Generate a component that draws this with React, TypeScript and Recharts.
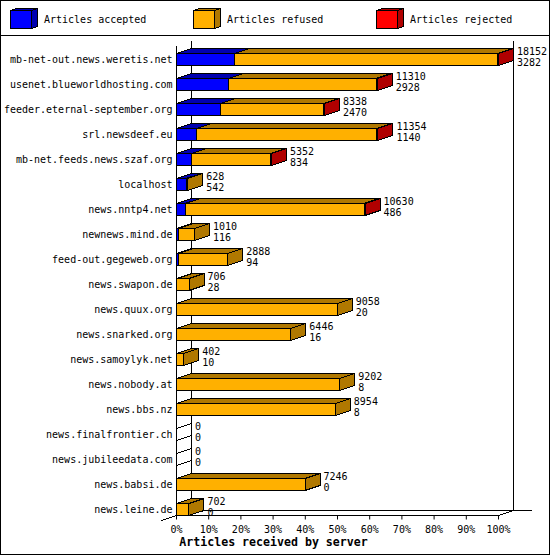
import React from "react";
import { BarChart, Bar, XAxis, YAxis, Legend, LabelList, usePlotArea } from "recharts";

const hosts = ["mb-net-out.news.weretis.net","usenet.blueworldhosting.com","feeder.eternal-september.org","srl.newsdeef.eu","mb-net.feeds.news.szaf.org","localhost","news.nntp4.net","newnews.mind.de","feed-out.gegeweb.org","news.swapon.de","news.quux.org","news.snarked.org","news.samoylyk.net","news.nobody.at","news.bbs.nz","news.finalfrontier.ch","news.jubileedata.com","news.babsi.de","news.leine.de"];
const totals = [18152,11310,8338,11354,5352,628,10630,1010,2888,706,9058,6446,402,9202,8954,0,0,7246,702];
const accepted = [3282,2928,2470,1140,834,542,486,116,94,28,20,16,10,8,8,0,0,0,0];
const rejected = [60,60,60,60,60,0,60,0,0,0,0,0,0,0,0,0,0,0,0];
const percentTicks = [0,10,20,30,40,50,60,70,80,90,100];
const maxTotal = 18152;

const table = hosts.map((host, i) => ({
  host,
  total: totals[i],
  acceptedCount: accepted[i],
  acceptedPct: (accepted[i] / maxTotal) * 100,
  refusedPct: ((totals[i] - accepted[i] - rejected[i]) / maxTotal) * 100,
  rejectedPct: (rejected[i] / maxTotal) * 100,
}));

const MONO = "'DejaVu Sans Mono', monospace";
const DX = 15;
const DY = 5;
const BAR_H = 12;

const darker: Record<string, string> = { "#0000ff": "#0000b0", "#ffb000": "#b07800", "#ff0000": "#b00000" };

function Block3D(props: any) {
  const { x, y, width, height, fill, payload, series } = props;
  const top = y + height - BAR_H;
  const bot = y + height;
  if (!(width > 0)) {
    if (series === "accepted" && payload.total === 0) {
      return (
        <g stroke="#000" fill="none" shapeRendering="crispEdges">
          <line x1={x} y1={top} x2={x + DX} y2={top - DY} />
          <line x1={x} y1={bot} x2={x + DX} y2={bot - DY} />
        </g>
      );
    }
    return null;
  }
  const r = x + width;
  return (
    <g stroke="#000" strokeWidth={1} shapeRendering="crispEdges">
      <polygon points={`${x},${top} ${x + DX},${top - DY} ${r + DX},${top - DY} ${r},${top}`} fill={darker[fill]} />
      <polygon points={`${r},${top} ${r + DX},${top - DY} ${r + DX},${bot - DY} ${r},${bot}`} fill={darker[fill]} />
      <rect x={x} y={top} width={width} height={BAR_H} fill={fill} />
    </g>
  );
}

function ValueLabels(props: any) {
  const { x, y, width, height, index } = props;
  const lx = x + width + 18.5;
  const top = y + height - BAR_H;
  return (
    <g fontFamily={MONO} fontSize={10} fill="#000">
      <text x={lx} y={top + 1}>{table[index].total}</text>
      <text x={lx} y={top + 12}>{table[index].acceptedCount}</text>
    </g>
  );
}

function Frame() {
  const p = usePlotArea();
  if (!p) return null;
  const l = p.x, b = p.y + p.height, t = p.y, r = p.x + p.width;
  return (
    <g stroke="#000" strokeWidth={1} fill="none" shapeRendering="crispEdges">
      <rect x={0.5} y={0.5} width={549} height={554} />
      <line x1={0} y1={35.5} x2={550} y2={35.5} />
      <line x1={l} y1={t + 5} x2={l} y2={b} />
      <line x1={l + DX} y1={t} x2={l + DX} y2={b - DY} />
      <line x1={r + DX} y1={t} x2={r + DX} y2={b - DY} />
      <line x1={l + DX} y1={b - DY} x2={r + 33} y2={b - DY} />
      <line x1={l - DX} y1={b + DY} x2={l + DX} y2={b - DY} />
      <line x1={r} y1={b} x2={r + DX} y2={b - DY} />
    </g>
  );
}

function HostTick(props: any) {
  const { y, payload } = props;
  return (
    <text x={172.5} y={y + 10} textAnchor="end" fontFamily={MONO} fontSize={10} fill="#000">
      {payload.value}
    </text>
  );
}

function PctTick(props: any) {
  const { x, y, payload } = props;
  return (
    <text x={x} y={y + 13} textAnchor="middle" fontFamily={MONO} fontSize={10} fill="#000">
      {payload.value}%
    </text>
  );
}

function AxisTitle() {
  return (
    <text x={273.5} y={546} textAnchor="middle" fontFamily={MONO} fontWeight="bold" fontSize={11.6} fill="#000">
      Articles received by server
    </text>
  );
}

const legendX = [10, 193, 376];

function LegendBox(props: any) {
  const items = props.payload || [];
  return (
    <div style={{ position: "relative", width: 550, height: 35 }}>
      {items.map((it: any, i: number) => (
        <div key={it.value} style={{ position: "absolute", left: legendX[i], top: 8 }}>
          <svg width={30} height={22} style={{ position: "absolute", left: 0, top: 0 }}>
            <g stroke="#000" shapeRendering="crispEdges">
              <polygon points="0.5,2.5 6.5,0.5 27.5,0.5 21.5,2.5" fill={darker[it.color]} />
              <polygon points="21.5,2.5 27.5,0.5 27.5,18.5 21.5,20.5" fill={darker[it.color]} />
              <rect x={0.5} y={2.5} width={21} height={18} fill={it.color} />
            </g>
          </svg>
          <span style={{ position: "absolute", left: 34, top: 6, fontFamily: MONO, fontSize: 10, whiteSpace: "nowrap", color: "#000" }}>
            {it.value}
          </span>
        </div>
      ))}
    </div>
  );
}

export default function App() {
  return (
    <div style={{ position: "absolute", left: 0, top: 0, width: 550, height: 555, background: "#fff" }}>
      <BarChart
        width={550}
        height={555}
        layout="vertical"
        data={table}
        barCategoryGap={0}
        margin={{ top: 5.5, right: 51.5, bottom: 0, left: 0 }}
      >
        <Frame />
        <XAxis
          type="number"
          domain={[0, 100]}
          ticks={percentTicks}
          tick={<PctTick />}
          tickSize={4}
          tickMargin={0}
          height={39.5}
          stroke="#000"
          interval={0}
        />
        <YAxis type="category" dataKey="host" width={176.5} axisLine={false} tickLine={false} tick={<HostTick />} interval={0} />
        <Legend verticalAlign="top" height={35} wrapperStyle={{ left: 0, top: 0, width: 550 }} content={<LegendBox />} />
        <Bar dataKey="acceptedPct" name="Articles accepted" stackId="a" fill="#0000ff" isAnimationActive={false} shape={<Block3D series="accepted" />} />
        <Bar dataKey="refusedPct" name="Articles refused" stackId="a" fill="#ffb000" isAnimationActive={false} shape={<Block3D series="refused" />} />
        <Bar dataKey="rejectedPct" name="Articles rejected" stackId="a" fill="#ff0000" isAnimationActive={false} shape={<Block3D series="rejected" />}>
          <LabelList dataKey="total" content={<ValueLabels />} />
        </Bar>
        <AxisTitle />
      </BarChart>
    </div>
  );
}
